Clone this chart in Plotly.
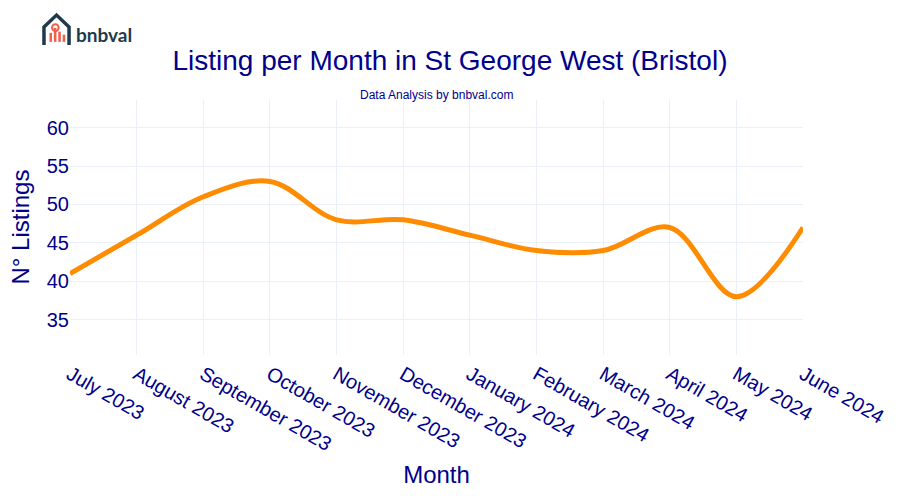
import plotly.graph_objects as go

months = ["July 2023", "August 2023", "September 2023", "October 2023", "November 2023",
          "December 2023", "January 2024", "February 2024", "March 2024", "April 2024",
          "May 2024", "June 2024"]
listings = [41, 46, 51, 53, 48, 48, 46, 44, 44, 47, 38, 47]

navy = "#00008B"
fig = go.Figure(go.Scatter(x=months, y=listings, mode="lines",
                           line=dict(color="#FF8C00", width=5, shape="spline")))

fig.update_layout(
    template="plotly_white",
    width=900, height=500,
    margin=dict(l=62, r=105, t=92, b=153, autoexpand=False),
    font=dict(family="Liberation Sans, Arial", color=navy),
    title=dict(text="Listing per Month in St George West (Bristol)", x=0.4911, xanchor="center",
               y=0.896, yanchor="middle", font=dict(size=28, color=navy)),
    showlegend=False,
)
fig.update_xaxes(title=dict(text="Month", font=dict(size=24, color=navy), standoff=12),
                 tickfont=dict(size=20, color=navy), tickangle=30, automargin=False,
                 ticklabelstandoff=3)
fig.update_yaxes(tickfont=dict(size=20, color=navy), automargin=False,
                 range=[min(listings) * 0.8, max(listings) * 1.2], dtick=5)

fig.add_annotation(text="N° Listings", xref="paper", yref="paper", x=0, y=0.5,
                   xanchor="center", yanchor="middle", xshift=-50, textangle=-90,
                   showarrow=False, font=dict(size=24, color=navy))

fig.add_annotation(text="Data Analysis by bnbval.com", xref="paper", yref="paper",
                   x=0.5, y=1.0, yanchor="bottom", yshift=-4, showarrow=False,
                   font=dict(size=12, color=navy))

# logo approximation
logo_col = "#1F3A4A"
fig.add_shape(type="path", xref="paper", yref="paper",
              path="M -0.0355 1.216 L -0.0355 1.286 L -0.0184 1.333 L -0.0013 1.286 L -0.0013 1.216",
              line=dict(color=logo_col, width=3.5))
for i, h in enumerate([0.035, 0.055, 0.04, 0.028]):
    fig.add_shape(type="rect", xref="paper", yref="paper",
                  x0=-0.028 + i * 0.006, x1=-0.0245 + i * 0.006,
                  y0=1.228, y1=1.228 + h, line=dict(width=0), fillcolor="#F0604D")
fig.add_shape(type="circle", xref="paper", yref="paper",
              x0=-0.0245, x1=-0.0155, y0=1.27, y1=1.297,
              line=dict(color="#F0604D", width=2))
fig.add_annotation(text="<b>bnbval</b>", xref="paper", yref="paper", x=0.005, y=1.255,
                   xanchor="left", yanchor="middle", showarrow=False,
                   font=dict(size=19, color=logo_col, family="Lato, Liberation Sans"))

fig.write_html("out.html")
